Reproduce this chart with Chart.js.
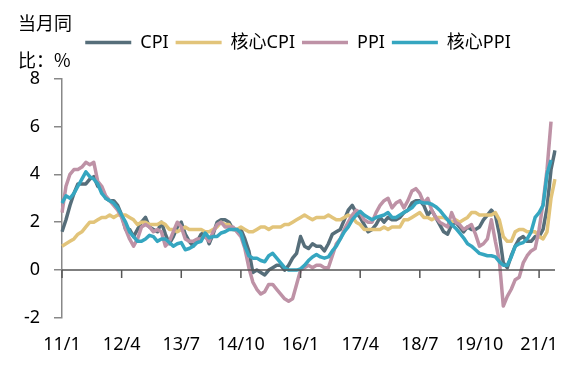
<!DOCTYPE html>
<html lang="zh">
<head>
  <meta charset="UTF-8">
  <title>CPI / PPI</title>
  <script src="https://cdn.jsdelivr.net/npm/chart.js"></script>
  <style>
    html, body { margin: 0; padding: 0; background: #fff; }
    #wrap { position: relative; width: 575px; height: 366px; }
    #unit {
      position: absolute; left: 18px; top: 4px;
      font: 18px "Noto Sans CJK SC", sans-serif; line-height: 37px; color: #000;
    }
  </style>
</head>
<body>
<div id="wrap">
  <canvas id="chart" width="575" height="366"></canvas>
  <div id="unit">当月同<br>比：%</div>
</div>

<script>
  // months 2011/1 .. 2021/5
  const months = [];
  for (let y = 11; y <= 21; y++) {
    for (let m = 1; m <= 12; m++) {
      if (y === 21 && m > 5) break;
      months.push(y + '/' + m);
    }
  }
  const tickLabels = ['11/1', '12/4', '13/7', '14/10', '16/1', '17/4', '18/7', '19/10', '21/1'];

  const cpi = [
    1.6, 2.1, 2.7, 3.2, 3.6, 3.6, 3.6, 3.8, 3.9, 3.5, 3.4, 3.0,
    2.9, 2.9, 2.7, 2.3, 1.7, 1.7, 1.4, 1.7, 2.0, 2.2, 1.8, 1.7,
    1.6, 2.0, 1.5, 1.1, 1.4, 1.8, 2.0, 1.5, 1.2, 1.0, 1.2, 1.5,
    1.6, 1.1, 1.5, 2.0, 2.1, 2.1, 2.0, 1.7, 1.7, 1.7, 1.3, 0.8,
    -0.1, 0.0, -0.1, -0.2, 0.0, 0.1, 0.2, 0.2, 0.0, 0.2, 0.5, 0.7,
    1.4, 1.0, 0.9, 1.1, 1.0, 1.0, 0.8, 1.1, 1.5, 1.6, 1.7, 2.1,
    2.5, 2.7, 2.4, 2.2, 1.9, 1.6, 1.7, 1.9, 2.2, 2.0, 2.2, 2.1,
    2.1, 2.2, 2.4, 2.5, 2.8, 2.9, 2.9, 2.7, 2.3, 2.5, 2.2, 1.9,
    1.6, 1.5, 1.9, 2.0, 1.8, 1.6, 1.8, 1.7, 1.7, 1.8, 2.1, 2.3,
    2.5, 2.3, 1.5, 0.3, 0.1, 0.6, 1.0, 1.3, 1.4, 1.2, 1.2, 1.4,
    1.4, 1.7, 2.6, 4.2, 5.0
  ];
  const coreCpi = [
    1.0, 1.1, 1.2, 1.3, 1.5, 1.6, 1.8, 2.0, 2.0, 2.1, 2.2, 2.2,
    2.3, 2.2, 2.3, 2.3, 2.3, 2.2, 2.1, 1.9, 2.0, 2.0, 1.9, 1.9,
    1.9, 2.0, 1.9, 1.7, 1.7, 1.6, 1.7, 1.8, 1.7, 1.7, 1.7, 1.7,
    1.6, 1.6, 1.7, 1.8, 2.0, 1.9, 1.9, 1.7, 1.7, 1.8, 1.7, 1.6,
    1.6, 1.7, 1.8, 1.8, 1.7, 1.8, 1.8, 1.8, 1.9, 1.9, 2.0, 2.1,
    2.2, 2.3, 2.2, 2.1, 2.2, 2.2, 2.2, 2.3, 2.2, 2.1, 2.1, 2.2,
    2.3, 2.2, 2.0, 1.9, 1.7, 1.7, 1.7, 1.7, 1.7, 1.8, 1.7, 1.8,
    1.8, 1.8, 2.1, 2.1, 2.2, 2.3, 2.4, 2.2, 2.2, 2.1, 2.2, 2.2,
    2.2, 2.1, 2.0, 2.1, 2.0, 2.1, 2.2, 2.4, 2.4, 2.3, 2.3, 2.3,
    2.3, 2.4, 2.1, 1.4, 1.2, 1.2, 1.6, 1.7, 1.7, 1.6, 1.6, 1.6,
    1.4, 1.3, 1.6, 3.0, 3.8
  ];
  const ppi = [
    2.4, 3.5, 4.0, 4.2, 4.2, 4.3, 4.5, 4.4, 4.5, 3.7, 3.5, 3.1,
    2.9, 2.7, 2.5, 2.2, 1.7, 1.3, 1.0, 1.3, 1.8, 1.9, 1.8, 1.6,
    1.7, 1.6, 1.0, 1.2, 1.6, 2.0, 1.8, 1.3, 1.2, 1.2, 1.3, 1.3,
    1.4, 1.2, 1.6, 1.9, 2.0, 1.8, 1.8, 1.8, 1.6, 1.4, 0.9, 0.1,
    -0.5, -0.8, -1.0, -0.9, -0.6, -0.6, -0.8, -1.0, -1.2, -1.3, -1.2, -0.6,
    0.0, 0.1, 0.2, 0.1, 0.2, 0.2, 0.1, 0.1, 0.6, 1.1, 1.3, 1.7,
    2.0, 2.3, 2.5, 2.4, 2.1, 2.0, 2.0, 2.4, 2.7, 2.9, 3.0, 2.6,
    2.8, 2.9, 2.6, 2.9, 3.3, 3.4, 3.2, 2.8, 3.0, 2.5, 2.2, 2.0,
    1.9, 1.8, 2.4, 2.0, 1.9, 1.7, 1.8, 1.9, 1.5, 1.0, 1.1, 1.3,
    2.1, 1.2, 0.4, -1.5, -1.1, -0.8, -0.4, -0.3, 0.3, 0.6, 0.8, 0.9,
    1.7, 2.8, 4.2, 6.2, null
  ];
  const corePpi = [
    2.8, 3.1, 3.0, 3.2, 3.5, 3.8, 4.1, 3.9, 3.8, 3.6, 3.2, 3.0,
    2.9, 2.8, 2.6, 2.3, 2.0, 1.6, 1.4, 1.2, 1.2, 1.3, 1.45, 1.4,
    1.2, 1.3, 1.3, 1.15, 1.0, 1.1, 1.15, 0.85, 0.9, 1.0, 1.15, 1.2,
    1.55, 1.35, 1.4, 1.4, 1.55, 1.6, 1.7, 1.7, 1.7, 1.55, 1.0, 0.6,
    0.5, 0.5, 0.4, 0.35, 0.6, 0.7, 0.5, 0.3, 0.1, 0.0, 0.0, 0.0,
    0.05, 0.2, 0.4, 0.55, 0.65, 0.55, 0.5, 0.55, 0.8, 1.0, 1.3, 1.6,
    1.8, 2.1, 2.3, 2.45, 2.3, 2.2, 2.1, 2.2, 2.25, 2.3, 2.4, 2.2,
    2.2, 2.3, 2.4, 2.5, 2.6, 2.8, 2.85, 2.8, 2.8, 2.75, 2.65, 2.5,
    2.3, 2.1, 1.9, 1.75, 1.55, 1.35, 1.1, 1.0, 0.85, 0.7, 0.65, 0.6,
    0.6, 0.55, 0.35, 0.2, 0.2, 0.55, 1.0, 1.1, 1.15, 1.3, 1.6, 2.2,
    2.4, 2.7, 4.0, 4.6, null
  ];

  const FONT = '"Noto Sans", "Noto Sans CJK SC", sans-serif';

  function line(label, data, color, order) {
    return {
      label: label, data: data, order: order,
      borderColor: color, backgroundColor: color,
      borderWidth: 3.5, pointRadius: 0, tension: 0,
      borderJoinStyle: 'round', fill: false
    };
  }

  // extra room under the legend, and nudge it right like the original
  const legendTweak = {
    id: 'legendTweak',
    beforeInit(chart) {
      const fit = chart.legend.fit;
      chart.legend.fit = function () {
        fit.bind(chart.legend)();
        this.height += 17;
      };
    },
    afterLayout(chart) {
      chart.legend.left += 41;
    }
  };

  // x axis sits on the zero line, ticks every 15 months pointing down
  const zeroAxis = {
    id: 'zeroAxis',
    afterDatasetsDraw(chart) {
      const { ctx, chartArea, scales: { x, y } } = chart;
      const y0 = y.getPixelForValue(0);
      ctx.save();
      ctx.strokeStyle = '#555';
      ctx.lineWidth = 1.5;
      ctx.beginPath();
      ctx.moveTo(chartArea.left, y0);
      ctx.lineTo(chartArea.right, y0);
      for (let i = 0; i < months.length; i += 15) {
        const px = x.getPixelForValue(i);
        ctx.moveTo(px, y0);
        ctx.lineTo(px, y0 + 8);
      }
      ctx.stroke();
      ctx.restore();
    }
  };

  new Chart(document.getElementById('chart'), {
    type: 'line',
    data: {
      labels: months,
      datasets: [
        line('CPI', cpi, '#566E7A', 4),
        line('核心CPI', coreCpi, '#E2C47A', 3),
        line('PPI', ppi, '#BE92A6', 2),
        line('核心PPI', corePpi, '#35A6C0', 1)
      ]
    },
    options: {
      responsive: false,
      animation: false,
      layout: { padding: { left: 0, right: 20, top: 26.5, bottom: -6 } },
      plugins: {
        tooltip: { enabled: false },
        legend: {
          position: 'top',
          labels: {
            usePointStyle: true, pointStyle: 'line', pointStyleWidth: 46,
            padding: 7, color: '#000',
            font: { family: FONT, size: 18 },
            sort: (a, b) => a.datasetIndex - b.datasetIndex
          }
        }
      },
      scales: {
        x: {
          grid: { display: false, drawTicks: false },
          border: { display: false },
          ticks: {
            autoSkip: false, maxRotation: 0, padding: 16.2, color: '#000',
            font: { family: FONT, size: 18 },
            callback: (v, i) => (i % 15 === 0 ? tickLabels[i / 15] : '')
          }
        },
        y: {
          min: -2, max: 8,
          afterFit: (s) => { s.width = 62; },
          grid: { drawOnChartArea: false, drawTicks: true, tickLength: 8, color: '#888', lineWidth: 1.5 },
          border: { color: '#888', width: 1.5 },
          ticks: { stepSize: 2, padding: 14, color: '#000', font: { family: FONT, size: 18 } }
        }
      }
    },
    plugins: [legendTweak, zeroAxis]
  });
</script>
</body>
</html>
